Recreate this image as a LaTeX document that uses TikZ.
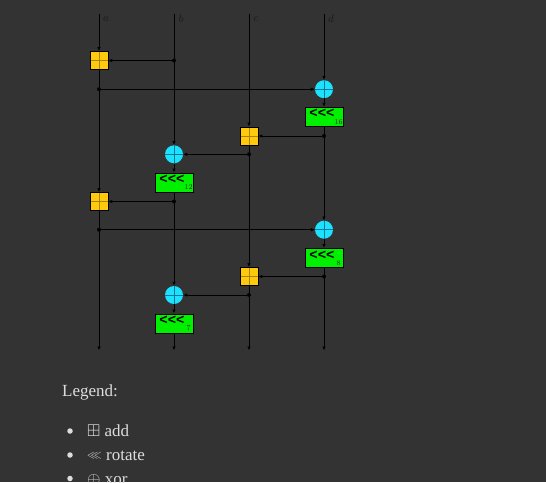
\documentclass[tikz,border=0pt]{standalone}
\usepackage{amssymb}
\usepackage{fontspec}
\usetikzlibrary{calc}
\usetikzlibrary{arrows.meta}
\definecolor{bgdark}{HTML}{333333}
\definecolor{addyellow}{HTML}{FFC90E}
\definecolor{addline}{HTML}{A88400}
\definecolor{xorcyan}{HTML}{1CE2FF}
\definecolor{xorline}{HTML}{0A7894}
\definecolor{rotgreen}{HTML}{00F000}
\definecolor{legendtext}{HTML}{DDDDDD}
\newfontfamily\chevfont{Liberation Mono}
\newfontfamily\legfont{Liberation Serif}

\begin{document}
\begin{tikzpicture}[x=1pt,y=-1pt,
  flow/.style={draw=black, line width=0.8pt, -{Latex[length=4pt,width=3.5pt]}},
  addop/.style={draw=black, line width=0.6pt, fill=addyellow, minimum size=18pt, inner sep=0pt,
    path picture={\draw[addline, line width=0.8pt]
      (path picture bounding box.north) -- (path picture bounding box.south)
      (path picture bounding box.west) -- (path picture bounding box.east);}},
  xorop/.style={circle, fill=xorcyan, minimum size=18pt, inner sep=0pt,
    path picture={\draw[xorline, line width=0.8pt]
      (path picture bounding box.north) -- (path picture bounding box.south)
      (path picture bounding box.west) -- (path picture bounding box.east);}},
  rotop/.style={draw=black, line width=0.6pt, fill=rotgreen, minimum width=38pt, minimum height=19pt, inner sep=0pt},
  chev/.style={inner sep=0pt, font=\chevfont\bfseries\fontsize{14}{14}\selectfont},
  amount/.style={inner sep=0pt, text=black!85, font=\fontsize{7.5}{7.5}\selectfont},
  wirename/.style={inner sep=0pt, text=black!90, font=\fontsize{11}{11}\selectfont},
  tap/.style={circle, fill=black, minimum size=4pt, inner sep=0pt},
  legend/.style={inner sep=0pt, text=legendtext, font=\legfont\fontsize{17}{20}\selectfont},
  bul/.style={circle, fill=legendtext, minimum size=5.5pt, inner sep=0pt}]

\fill[bgdark] (0,0) rectangle (546,482);
\useasboundingbox (0,0) rectangle (546,482);

\def\xa{99}
\def\xb{174}
\def\xc{249}
\def\xd{324}
\def\ytop{14}
\def\yend{350.5}

\coordinate (topA) at (\xa,\ytop);
\coordinate (topB) at (\xb,\ytop);
\coordinate (topC) at (\xc,\ytop);
\coordinate (topD) at (\xd,\ytop);
\coordinate (endA) at (\xa,\yend);
\coordinate (endB) at (\xb,\yend);
\coordinate (endC) at (\xc,\yend);
\coordinate (endD) at (\xd,\yend);

\node[wirename] (na) at ($(topA)+(7,5)$) {$a$};
\node[wirename] (nb) at ($(topB)+(7,5)$) {$b$};
\node[wirename] (nc) at ($(topC)+(7,5)$) {$c$};
\node[wirename] (nd) at ($(topD)+(7,5)$) {$d$};

\node[addop] (addA1) at (\xa,60.5) {};
\node[xorop] (xorD1) at (\xd,89.2) {};
\node[rotop] (rotD1) at (\xd,116.7) {};
\node[addop] (addC1) at (\xc,136) {};
\node[xorop] (xorB1) at (\xb,154.3) {};
\node[rotop] (rotB1) at (\xb,182.5) {};
\node[addop] (addA2) at (\xa,201.5) {};
\node[xorop] (xorD2) at (\xd,229.7) {};
\node[rotop] (rotD2) at (\xd,257.8) {};
\node[addop] (addC2) at (\xc,276.5) {};
\node[xorop] (xorB2) at (\xb,295) {};
\node[rotop] (rotB2) at (\xb,323.3) {};

\node[chev] (cD1) at ($(rotD1)+(-2,-3)$) {<<<}; \node[amount] (sD1) at ($(rotD1)+(14.5,5)$) {16};
\node[chev] (cB1) at ($(rotB1)+(-2,-3)$) {<<<}; \node[amount] (sB1) at ($(rotB1)+(14.5,5)$) {12};
\node[chev] (cD2) at ($(rotD2)+(-2,-3)$) {<<<}; \node[amount] (sD2) at ($(rotD2)+(14.5,5)$) {8};
\node[chev] (cB2) at ($(rotB2)+(-2,-3)$) {<<<}; \node[amount] (sB2) at ($(rotB2)+(14.5,5)$) {7};

\draw[flow] (topA) -- (addA1);
\draw[flow] (addA1) -- (addA2);
\draw[flow] (addA2) -- (endA);
\draw[flow] (topB) -- (xorB1);
\draw[flow] (xorB1) -- (rotB1);
\draw[flow] (rotB1) -- (xorB2);
\draw[flow] (xorB2) -- (rotB2);
\draw[flow] (rotB2) -- (endB);
\draw[flow] (topC) -- (addC1);
\draw[flow] (addC1) -- (addC2);
\draw[flow] (addC2) -- (endC);
\draw[flow] (topD) -- (xorD1);
\draw[flow] (xorD1) -- (rotD1);
\draw[flow] (rotD1) -- (xorD2);
\draw[flow] (xorD2) -- (rotD2);
\draw[flow] (rotD2) -- (endD);

\node[tap] (tB1) at (\xb,60.5) {};
\node[tap] (tA1) at (\xa,89.2) {};
\node[tap] (tD1) at (\xd,136) {};
\node[tap] (tC1) at (\xc,154.3) {};
\node[tap] (tB2) at (\xb,201.5) {};
\node[tap] (tA2) at (\xa,229.7) {};
\node[tap] (tD2) at (\xd,276.5) {};
\node[tap] (tC2) at (\xc,295) {};

\draw[flow] (tB1) -- (addA1);
\draw[flow] (tA1) -- (xorD1);
\draw[flow] (tD1) -- (addC1);
\draw[flow] (tC1) -- (xorB1);
\draw[flow] (tB2) -- (addA2);
\draw[flow] (tA2) -- (xorD2);
\draw[flow] (tD2) -- (addC2);
\draw[flow] (tC2) -- (xorB2);

\node[legend, anchor=base west] (leg) at (62,396) {Legend:};
\node[bul] (b1) at (70,431) {}; \node[legend, anchor=base west] (l1) at (87,436) {$\boxplus$ add};
\node[bul] (b2) at (70,455) {}; \node[legend, anchor=base west] (l2) at (87,460) {\raisebox{2pt}{\fontsize{11}{11}\selectfont$\lll$} rotate};
\node[bul] (b3) at (70,478.5) {}; \node[legend, anchor=base west] (l3) at (87,484) {$\oplus$ xor};

\end{tikzpicture}
\end{document}
